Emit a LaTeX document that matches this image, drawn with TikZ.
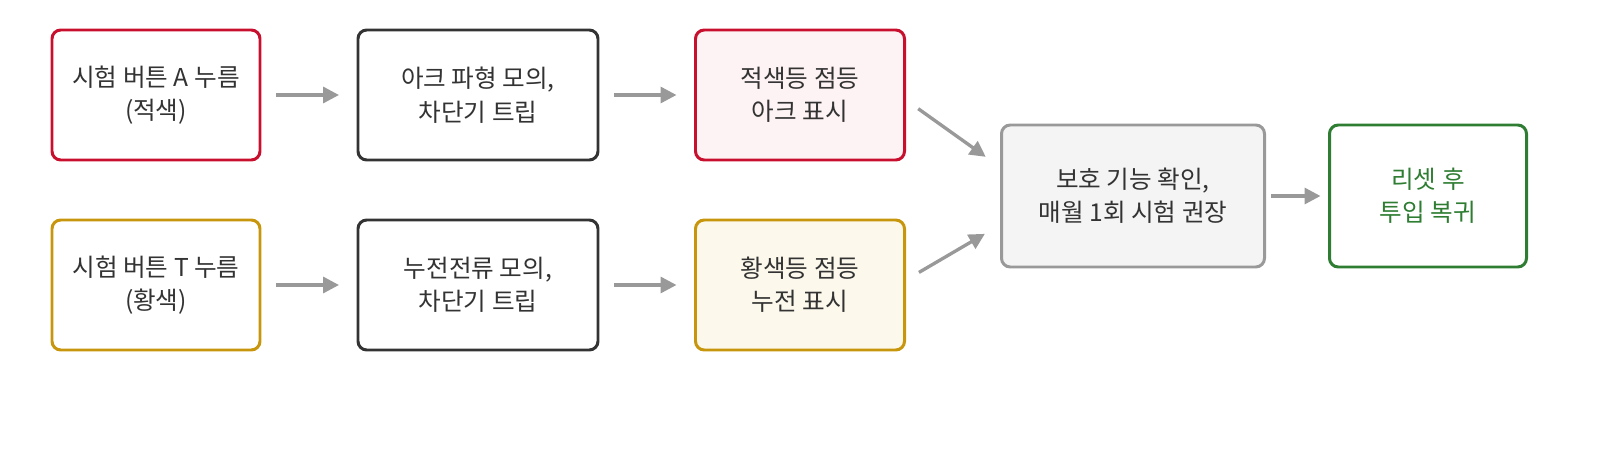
\documentclass[tikz,border=0pt]{standalone}
\usepackage{fontspec}
\setmainfont{Noto Sans CJK KR}
\usepackage{xcolor}
\usetikzlibrary{arrows.meta, positioning, calc}

\definecolor{redline}{HTML}{C8102E}
\definecolor{redfill}{HTML}{FDF2F4}
\definecolor{goldline}{HTML}{C8960C}
\definecolor{goldfill}{HTML}{FCF8EC}
\definecolor{darkline}{HTML}{333333}
\definecolor{grayline}{HTML}{999999}
\definecolor{grayfill}{HTML}{F4F4F4}
\definecolor{greenline}{HTML}{2E7D32}

\tikzset{
  box/.style={rectangle, draw, rounded corners=5pt, line width=1.7pt, align=center,
    minimum height=2.6cm, font=\fontsize{14}{19}\selectfont, text=darkline},
  flow/.style={-{Triangle[length=9pt,width=9pt]}, draw=grayline, line width=1.9pt,
    shorten <=0.3cm, shorten >=0.35cm}
}

\begin{document}
\begin{tikzpicture}
        \useasboundingbox (0,0) rectangle (32,9);
        \node (btna) [box, draw=redline, fill=white, minimum width=4.16cm] at (3.12,7.1) {시험 버튼 A 누름\\(적색)};
        \node (arcsim) [box, draw=darkline, fill=white, minimum width=4.8cm] at (9.56,7.1) {아크 파형 모의,\\차단기 트립};
        \node (redlamp) [box, draw=redline, fill=redfill, minimum width=4.18cm] at (16,7.1) {적색등 점등\\아크 표시};

        \node (btnt) [box, draw=goldline, fill=white, minimum width=4.16cm] at (3.12,3.3) {시험 버튼 T 누름\\(황색)};
        \node (leaksim) [box, draw=darkline, fill=white, minimum width=4.8cm] at (9.56,3.3) {누전전류 모의,\\차단기 트립};
        \node (yellamp) [box, draw=goldline, fill=goldfill, minimum width=4.18cm] at (16,3.3) {황색등 점등\\누전 표시};

        \node (check) [box, draw=grayline, fill=grayfill, minimum width=5.26cm, minimum height=2.84cm] at (22.66,5.08) {보호 기능 확인,\\매월 1회 시험 권장};
        \node (reset) [box, draw=greenline, fill=white, text=greenline, minimum width=3.94cm, minimum height=2.84cm] at (28.56,5.08) {리셋 후\\투입 복귀};

        \draw [flow] (btna) -- (arcsim);
        \draw [flow] (arcsim) -- (redlamp);
        \draw [flow] (btnt) -- (leaksim);
        \draw [flow] (leaksim) -- (yellamp);
        \draw [flow] ($(redlamp.east)+(0,-0.1)$) -- ($(check.west)+(0,0.58)$);
        \draw [flow] ($(yellamp.east)+(0,0.1)$) -- ($(check.west)+(0,-0.58)$);
        \draw [flow, shorten <=0.1cm, shorten >=0.15cm] (check) -- (reset);
    \end{tikzpicture}
\end{document}
